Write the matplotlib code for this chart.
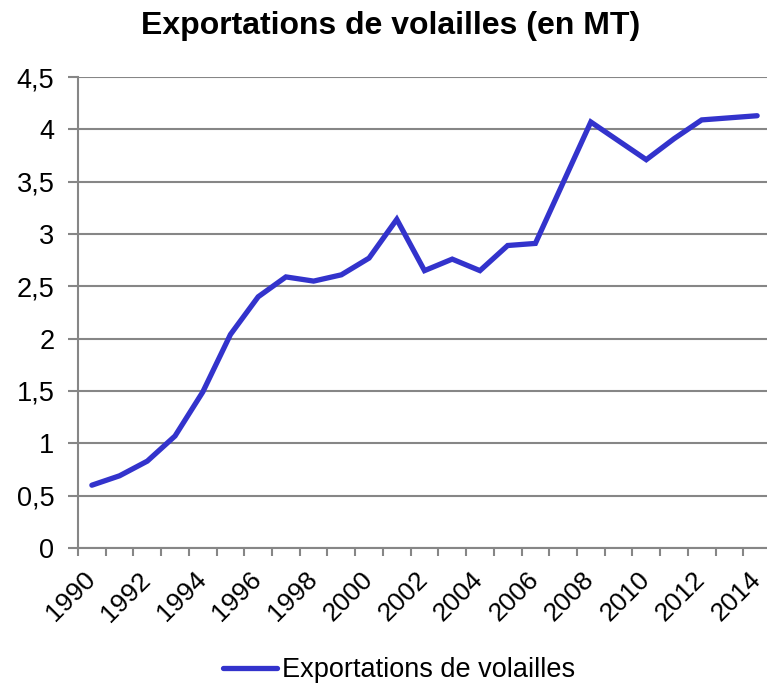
import matplotlib
matplotlib.use("Agg")
import matplotlib.pyplot as plt
from matplotlib.ticker import FixedLocator, FuncFormatter

# data
years = list(range(1990, 2015))
exports = [0.60, 0.69, 0.83, 1.07, 1.49, 2.04, 2.40, 2.59, 2.55, 2.61,
           2.77, 3.14, 2.65, 2.76, 2.65, 2.89, 2.91, 3.49, 4.07, 3.89,
           3.71, 3.91, 4.09, 4.11, 4.13]
y_ticks = [0, 0.5, 1, 1.5, 2, 2.5, 3, 3.5, 4, 4.5]

plt.rcParams['font.family'] = ['Liberation Sans', 'DejaVu Sans']

W, H = 767, 685
fig = plt.figure(figsize=(W / 100, H / 100), dpi=100)
# axes box in pixels: left 78, right 771, top 77, bottom 548
ax = fig.add_axes([78 / W, 1 - 548 / H, 693 / W, (548 - 77) / H])

grid_col = "#868686"
line_col = "#3333CC"

x = list(range(len(years)))
ax.plot(x, exports, color=line_col, lw=3.8, solid_capstyle="round",
        solid_joinstyle="miter", label="Exportations de volailles", zorder=3)

ax.set_xlim(-0.5, len(years) - 0.5)
ax.set_ylim(0, 4.5)

ax.yaxis.set_major_locator(FixedLocator(y_ticks))
ax.yaxis.set_major_formatter(FuncFormatter(lambda v, p: f"{v:g}".replace(".", ",")))
ax.grid(axis="y", color=grid_col, lw=1.5)
ax.set_axisbelow(True)

# tick marks between categories, labels every two years
ax.set_xticks([i - 0.5 for i in range(len(years) + 1)])
ax.set_xticklabels([])
ax.set_xticks([i - 0.32 for i in x[::2]], minor=True)
ax.set_xticklabels([str(y) for y in years[::2]], minor=True, rotation=45,
                   ha="right", va="top", rotation_mode="anchor", fontsize=19)
ax.tick_params(axis="x", which="major", length=6, width=1.5, color=grid_col,
               direction="out")
ax.tick_params(axis="x", which="minor", length=0, pad=14)
ax.tick_params(axis="y", length=7, width=1.5, color=grid_col, labelsize=19.5, pad=10)

for side in ["top", "right"]:
    ax.spines[side].set_visible(False)
for side in ["left", "bottom"]:
    ax.spines[side].set_color(grid_col)
    ax.spines[side].set_linewidth(1.5)

fig.text(391 / W, 1 - 26 / H, "Exportations de volailles (en MT)",
         ha="center", va="center", fontsize=23, fontweight="bold")

fig.legend(loc="center", bbox_to_anchor=(399 / W, 1 - 670 / H), frameon=False,
           fontsize=19.5, handlelength=2.0, handletextpad=0.2, borderpad=0)

fig.savefig("out.png", dpi=100)
